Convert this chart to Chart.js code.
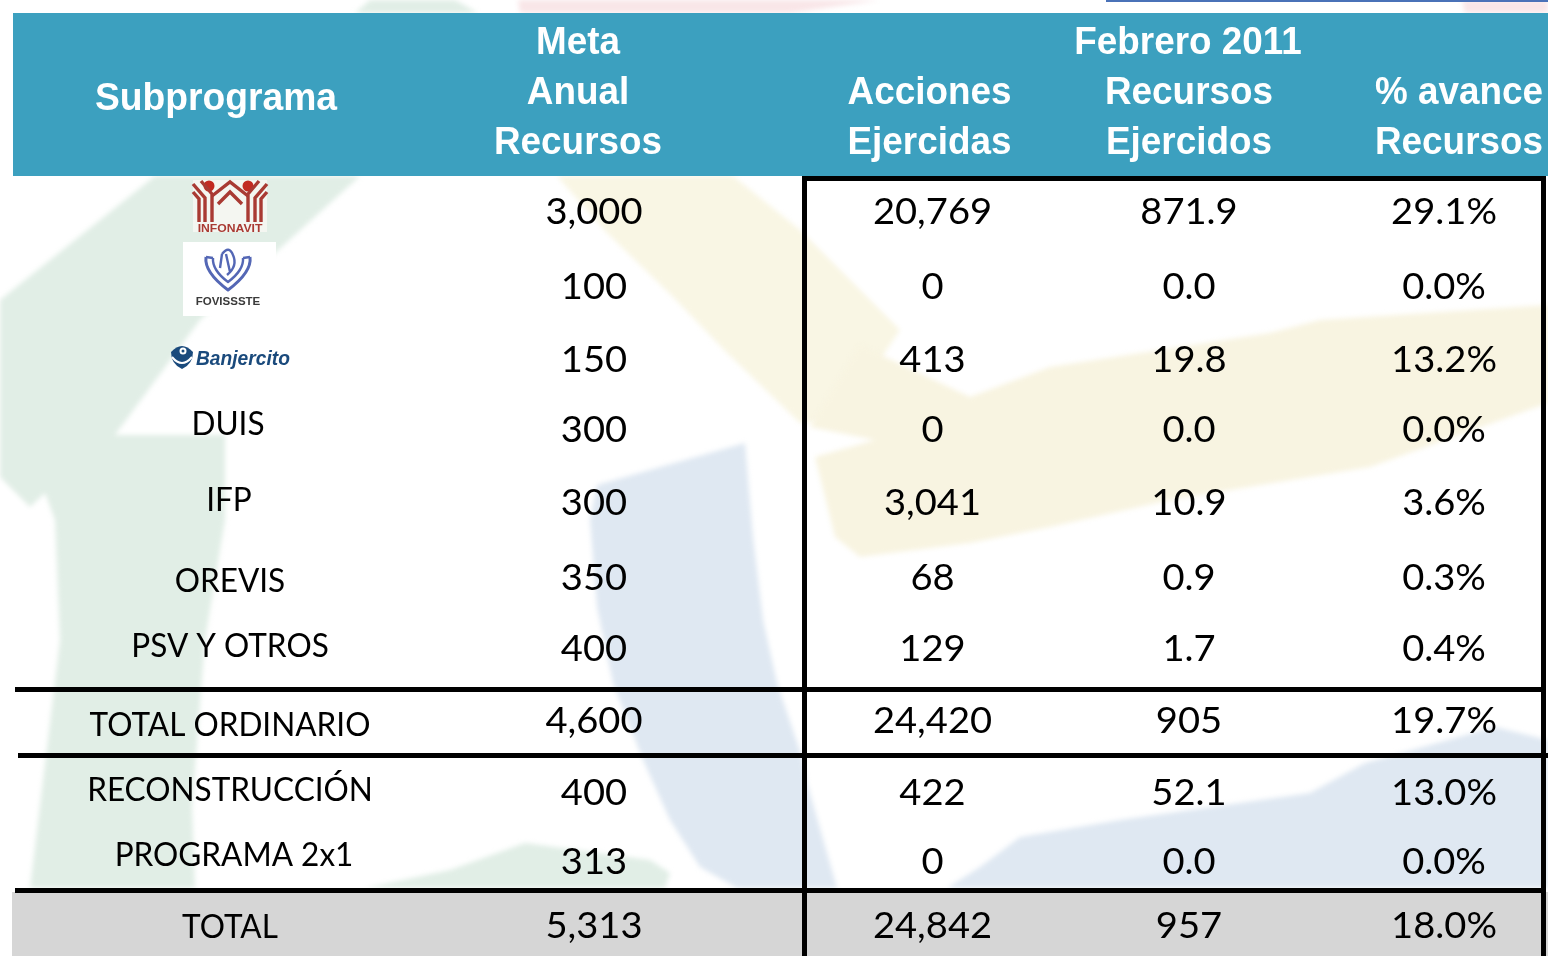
<!DOCTYPE html>
<html><head><meta charset="utf-8">
<script src="https://cdn.jsdelivr.net/npm/chart.js@4"></script>
<style>html,body{margin:0;padding:0;background:#fff;overflow:hidden}canvas{display:block}</style>
</head><body><canvas id="c" width="1548" height="956"></canvas>
<script>
// ---- data ----
const subprogramas = ["INFONAVIT","FOVISSSTE","Banjercito","DUIS","IFP","OREVIS","PSV Y OTROS","TOTAL ORDINARIO","RECONSTRUCCIÓN","PROGRAMA 2x1","TOTAL"];
const metaAnual = [3000,100,150,300,300,350,400,4600,400,313,5313];
const acciones = [20769,0,413,0,3041,68,129,24420,422,0,24842];
const recursos = [871.9,0,19.8,0,10.9,0.9,1.7,905,52.1,0,957];
const avance = [29.1,0,13.2,0,3.6,0.3,0.4,19.7,13.0,0,18.0];
const headerMeta = ["Meta","Anual","Recursos"];
const headerTitle = "Subprograma";
const headerPeriodo = "Febrero 2011";
const headerAcciones = ["Acciones","Ejercidas"];
const headerRecursos = ["Recursos","Ejercidos"];
const headerAvance = ["% avance","Recursos"];

// ---- layout (axis units equal canvas pixels) ----
const rowY = [224,299,372,442,515,590,661,733,805,874,938];
const labelY = [null,null,null,435,511,592,657,736,801,866,938];
const labelX = [null,null,null,228,229,230,230,230,230,234,230];
const colX = {meta:594,acc:932.5,rec:1189,ava:1444};
const rules = [
  {x:[15,1544],y:[689.5,689.5]},{x:[18,1548],y:[755.5,755.5]},{x:[15,1544],y:[890.5,890.5]},
  {x:[804.5,804.5],y:[177,956]},{x:[1543.5,1543.5],y:[177,956]},{x:[802,1546],y:[178.5,178.5]}
];
const washes = [
 {c:"#e1eee6",p:[[155,176],[360,176],[275,253],[200,320],[115,435],[225,435],[225,520],[205,640],[192,807],[195,888],[30,888],[60,640],[55,520],[45,493],[30,507],[0,477],[0,300]]},
 {c:"#e1eee6",p:[[365,888],[450,870],[525,843],[650,860],[670,873],[665,888]]},
 {c:"#e1eee6",p:[[355,13],[370,0],[455,0],[478,13]]},
 {c:"#f9e6e8",p:[[520,13],[518,0],[880,0],[790,13]]},
 {c:"#f9e6e8",p:[[1465,13],[1462,0],[1548,0],[1548,13]]},
 {c:"#f9f6e4",p:[[557,176],[733,176],[800,230],[860,290],[900,330],[840,420],[800,423],[727,353],[673,297],[607,233]]},
 {c:"#f8f4e1",p:[[810,427],[860,345],[970,397],[1050,367],[1270,333],[1320,320],[1548,305],[1548,403],[1370,467],[1170,500],[1050,527],[970,543],[860,557],[835,537],[815,457],[875,440]]},
 {c:"#dfe8f2",p:[[745,443],[597,485],[590,520],[597,607],[613,683],[643,760],[670,820],[700,867],[737,888],[837,888],[807,783],[802,757],[777,683],[763,620],[753,537]]},
 {c:"#dfe8f2",p:[[947,888],[980,867],[1020,837],[1120,820],[1310,793],[1365,763],[1495,727],[1548,740],[1548,888]]}
];
const TOP_BAR = {x:[1106,1548],y:[0,2],c:"#4a72b8"};
const HEADER_BAND = {x:[13,1548],y:[13,176],c:"#3ca0bf"};
const TOTAL_BAND = {x:[12,1548],y:[892,956],c:"#d6d6d6"};

const fmtInt = v => v.toLocaleString("en-US");
const fmtRec = v => (Number.isInteger(v) && v>=100) ? fmtInt(v) : v.toFixed(1);
const fmtPct = v => v.toFixed(1)+"%";

const cols = [
 {vals:metaAnual,x:colX.meta,f:fmtInt},
 {vals:acciones,x:colX.acc,f:fmtInt},
 {vals:recursos,x:colX.rec,f:fmtRec},
 {vals:avance,x:colX.ava,f:fmtPct}
];

const BODY={font:"37px Lato",sx:1.03};
const LABEL={font:"32px Lato",sx:0.985};
const HEAD={font:"bold 38px 'Liberation Sans'",sx:0.97,c:"#fff"};

function text(ctx,s,x,y,st){
  ctx.save();ctx.font=st.font;ctx.fillStyle=st.c||"#000";ctx.textAlign="center";ctx.textBaseline="alphabetic";
  ctx.translate(x,y);ctx.scale(st.sx,1);ctx.fillText(s,0,0);ctx.restore();
}

const tablePlugin={
 id:"table",
 beforeDatasetsDraw(chart){
  const {ctx,scales:{x,y}}=chart;
  ctx.save();
  ctx.fillStyle="#fff";ctx.fillRect(0,0,chart.width,chart.height);
  ctx.save();ctx.filter="blur(2.5px)";
  washes.forEach(w=>{ctx.fillStyle=w.c;ctx.beginPath();
    w.p.forEach((q,i)=>{const a=x.getPixelForValue(q[0]),b=y.getPixelForValue(q[1]);i?ctx.lineTo(a,b):ctx.moveTo(a,b)});
    ctx.closePath();ctx.fill();});
  ctx.restore();
  [TOP_BAR,HEADER_BAND,TOTAL_BAND].forEach(b=>{ctx.fillStyle=b.c;
    const l=x.getPixelForValue(b.x[0]),r=x.getPixelForValue(b.x[1]),t=y.getPixelForValue(b.y[0]),e=y.getPixelForValue(b.y[1]);
    ctx.fillRect(l,t,r-l,e-t);});
  ctx.restore();
 },
 afterDatasetsDraw(chart){
  const {ctx,scales:{x,y}}=chart;
  const X=v=>x.getPixelForValue(v),Y=v=>y.getPixelForValue(v);
  chart.data.datasets.forEach((d,i)=>{
    if(!d.cell) return;
    chart.getDatasetMeta(i).data.forEach((el,j)=>text(ctx,d.cell[j],el.x,el.y,BODY));
  });
  subprogramas.forEach((s,i)=>{ if(labelY[i]!==null) text(ctx,s,X(labelX[i]),Y(labelY[i]),LABEL); });
  text(ctx,headerTitle,X(216),Y(110),{...HEAD,sx:0.98});
  headerMeta.forEach((s,i)=>text(ctx,s,X(578),Y([54,104,154][i]),HEAD));
  text(ctx,headerPeriodo,X(1188),Y(54),HEAD);
  headerAcciones.forEach((s,i)=>text(ctx,s,X(929.5),Y([104,154][i]),HEAD));
  headerRecursos.forEach((s,i)=>text(ctx,s,X(1189),Y([104,154][i]),HEAD));
  headerAvance.forEach((s,i)=>text(ctx,s,X(1459),Y([104,154][i]),HEAD));
  logos(ctx,X,Y);
 }
};

function poly(ctx,X,Y,l){ctx.beginPath();l.forEach((q,i)=>i?ctx.lineTo(X(q[0]),Y(q[1])):ctx.moveTo(X(q[0]),Y(q[1])));ctx.stroke();}

function logos(ctx,X,Y){
  ctx.save();
  // INFONAVIT
  ctx.fillStyle="#f4f6f1";ctx.fillRect(X(193),Y(180),74,52);
  ctx.strokeStyle="#a93a33";ctx.fillStyle="#c22a22";ctx.lineJoin="miter";
  [[209,186],[248,186]].forEach(c=>{ctx.beginPath();ctx.arc(X(c[0]),Y(c[1]),5.5,0,7);ctx.fill();});
  ctx.lineWidth=3.4;
  [[[193,184],[205,198],[205,222]],[[193,192],[199,199],[199,222]],[[201,181],[212,194],[212,222]],
   [[267,184],[255,198],[255,222]],[[267,192],[261,199],[261,222]],[[259,181],[248,194],[248,222]]].forEach(l=>poly(ctx,X,Y,l));
  [[[212,196],[230,182],[248,196]],[[218,204],[230,192],[242,204]]].forEach(l=>poly(ctx,X,Y,l));
  ctx.save();ctx.font="bold 10.5px 'Liberation Sans'";ctx.fillStyle="#a93a33";ctx.textAlign="center";
  ctx.translate(X(230),Y(232));ctx.scale(1.16,1);ctx.fillText("INFONAVIT",0,0);ctx.restore();
  // FOVISSSTE
  ctx.fillStyle="#fff";ctx.fillRect(X(183),Y(242),93,74);
  ctx.strokeStyle="#5467b5";ctx.lineWidth=3;ctx.lineJoin="round";
  ctx.beginPath();ctx.moveTo(X(206),Y(257));ctx.quadraticCurveTo(X(204),Y(272),X(228),Y(290));ctx.quadraticCurveTo(X(252),Y(272),X(250),Y(257));ctx.stroke();
  ctx.lineWidth=2.4;
  ctx.beginPath();ctx.moveTo(X(213),Y(258));ctx.quadraticCurveTo(X(212),Y(270),X(228),Y(282));ctx.quadraticCurveTo(X(244),Y(270),X(243),Y(258));ctx.stroke();
  ctx.beginPath();ctx.moveTo(X(206),Y(257));ctx.lineTo(X(213),Y(258));ctx.moveTo(X(250),Y(257));ctx.lineTo(X(243),Y(258));ctx.stroke();
  ctx.beginPath();ctx.moveTo(X(222),Y(254));ctx.quadraticCurveTo(X(229),Y(245),X(233),Y(255));ctx.quadraticCurveTo(X(238),Y(266),X(227),Y(275));ctx.moveTo(X(226),Y(254));ctx.lineTo(X(230),Y(272));ctx.moveTo(X(222),Y(254));ctx.lineTo(X(220),Y(268));ctx.stroke();
  ctx.save();ctx.font="bold 11.5px 'Liberation Sans'";ctx.fillStyle="#3a3a3a";ctx.textAlign="center";
  ctx.fillText("FOVISSSTE",X(228),Y(305));ctx.restore();
  // Banjercito
  ctx.fillStyle="#1a4a7c";
  ctx.beginPath();ctx.moveTo(X(171),Y(352));ctx.quadraticCurveTo(X(182),Y(340),X(193),Y(352));ctx.quadraticCurveTo(X(193),Y(364),X(182),Y(369));ctx.quadraticCurveTo(X(171),Y(364),X(171),Y(352));ctx.fill();
  ctx.strokeStyle="#fff";ctx.lineWidth=2;
  ctx.beginPath();ctx.moveTo(X(172),Y(357));ctx.quadraticCurveTo(X(182),Y(369),X(192),Y(357));ctx.stroke();
  ctx.beginPath();ctx.arc(X(183),Y(351),2.5,0,7);ctx.stroke();
  ctx.save();ctx.font="italic bold 20px 'Liberation Sans'";ctx.fillStyle="#1a4a7c";ctx.textAlign="left";
  ctx.translate(X(196),Y(365));ctx.scale(0.96,1);ctx.fillText("Banjercito",0,0);ctx.restore();
  ctx.restore();
}

const datasets=[];
rules.forEach(r=>datasets.push({type:"scatter",showLine:true,data:[{x:r.x[0],y:r.y[0]},{x:r.x[1],y:r.y[1]}],borderColor:"#000",borderWidth:5,pointRadius:0,borderCapStyle:"butt"}));
cols.forEach(c=>datasets.push({type:"scatter",data:c.vals.map((v,i)=>({x:c.x,y:rowY[i]})),cell:c.vals.map(c.f),pointRadius:0,showLine:false}));

new Chart(document.getElementById("c"),{
 type:"scatter",
 data:{datasets},
 options:{
  responsive:false,animation:false,devicePixelRatio:1,
  layout:{padding:0},
  plugins:{legend:{display:false},tooltip:{enabled:false},title:{display:false}},
  scales:{
   x:{type:"linear",min:0,max:1548,display:false},
   y:{type:"linear",min:0,max:956,reverse:true,display:false}
  }
 },
 plugins:[tablePlugin]
});
</script></body></html>
